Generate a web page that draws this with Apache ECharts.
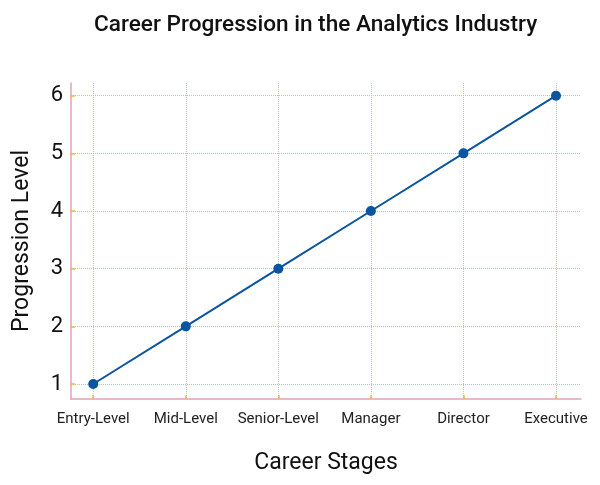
<!DOCTYPE html>
<html>
<head>
<meta charset="utf-8">
<script src="https://cdn.jsdelivr.net/npm/echarts@6/dist/echarts.min.js"></script>
<style>
  html, body { margin: 0; padding: 0; background: #fff; }
  #chart { width: 600px; height: 485px; }
</style>
</head>
<body>
<div id="chart"></div>
<script>
// career stages and their level
var stages = ['Entry-Level', 'Mid-Level', 'Senior-Level', 'Manager', 'Director', 'Executive'];
var levels = [1, 2, 3, 4, 5, 6];
var levelTicks = [1, 2, 3, 4, 5, 6];
var stageTicks = [0, 1, 2, 3, 4, 5];

var myChart = echarts.init(document.getElementById('chart'));
myChart.setOption({
  animation: false,
  title: {
    text: 'Career Progression in the Analytics Industry',
    left: 89,
    top: 9,
    textStyle: { fontFamily: 'Roboto', fontSize: 22.6, fontWeight: 500, color: '#111' }
  },
  grid: { left: 71, right: 19, top: 83, bottom: 86 },
  xAxis: {
    type: 'value',
    min: -0.24,
    max: 5.27,
    name: 'Career Stages',
    nameLocation: 'middle',
    nameGap: 53,
    nameTextStyle: { fontFamily: 'Roboto', fontSize: 23, color: '#111' },
    axisLine: { onZero: false, lineStyle: { color: '#e0a3b3', width: 1.5 } },
    axisTick: { show: true, inside: true, length: 4, customValues: stageTicks, lineStyle: { color: '#f5b04a', width: 1.5 } },
    axisLabel: {
      customValues: stageTicks,
      margin: 13,
      fontFamily: 'Roboto', fontSize: 15, color: '#222',
      formatter: function (v) { return stages[Math.round(v)]; }
    },
    splitLine: { show: true, lineStyle: { color: '#a8c4e6', type: [1, 1], width: 1 } }
  },
  yAxis: {
    type: 'value',
    min: 0.74,
    max: 6.22,
    name: 'Progression Level',
    nameLocation: 'middle',
    nameGap: 37,
    nameTextStyle: { fontFamily: 'Roboto', fontSize: 23, color: '#111' },
    axisLine: { show: true, onZero: false, lineStyle: { color: '#e0a3b3', width: 1.5 } },
    axisTick: { show: true, inside: true, length: 4, customValues: levelTicks, lineStyle: { color: '#f5b04a', width: 1.5 } },
    axisLabel: { customValues: levelTicks, margin: 8, fontFamily: 'Roboto', fontSize: 22, color: '#111' },
    splitLine: { show: true, lineStyle: { color: '#a8c4e6', type: [1, 1], width: 1 } }
  },
  series: [
    {
      type: 'line',
      data: stageTicks.map(function (x, i) { return [x, levels[i]]; }),
      symbol: 'circle',
      symbolSize: 10,
      itemStyle: { color: '#0b55a0' },
      lineStyle: { color: '#0b55a0', width: 2 }
    }
  ]
});
</script>
</body>
</html>
